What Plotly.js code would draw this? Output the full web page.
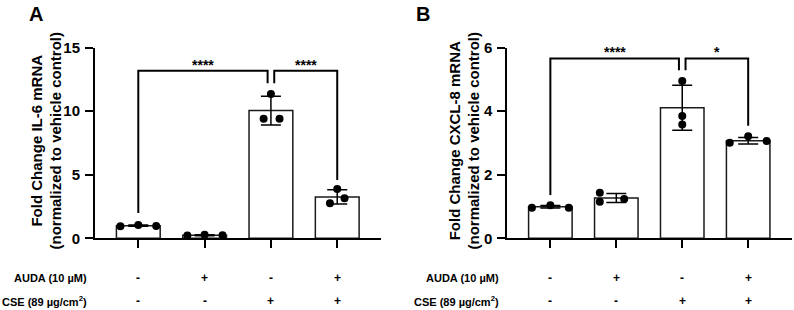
<!DOCTYPE html>
<html>
<head>
<meta charset="utf-8">
<script src="https://cdn.plot.ly/plotly-3.0.1.min.js"></script>
<style>html,body{margin:0;padding:0;background:#fff;}#chart{width:794px;height:310px;}</style>
</head>
<body>
<div id="chart"></div>
<script>
// ---- data ----
const categories = ['Vehicle', 'AUDA', 'CSE', 'AUDA + CSE'];
const audaSigns = ['-', '+', '-', '+'];
const cseSigns  = ['-', '-', '+', '+'];

// Panel A: IL-6
const il6Points = [[0.95, 1.05, 0.97], [0.22, 0.27, 0.24], [11.35, 9.4, 9.4], [3.88, 3.15, 2.75]];
const il6Jitter = [[-0.27, 0, 0.27], [-0.26, 0, 0.27], [0, -0.11, 0.13], [0, 0.11, -0.11]];
const il6Mean = [0.99, 0.24, 10.05, 3.26];
const il6Sd   = [0.05, 0.03, 1.13, 0.57];
const il6SigPairs  = [[0, 2], [2, 3]];
const il6SigLabels = ['****', '****'];
const il6SigTop    = [13.18, 13.18];
const il6SigLegs   = [[2.0, 12.2], [12.2, 4.58]];
const il6Ticks = [0, 5, 10, 15];

// Panel B: CXCL-8
const cxcl8Points = [[0.96, 1.04, 0.96], [1.43, 1.15, 1.24], [4.95, 3.85, 3.58], [3.01, 3.21, 3.06]];
const cxcl8Jitter = [[-0.28, 0, 0.28], [-0.25, -0.25, 0.12], [0, 0, 0], [-0.28, 0, 0.28]];
const cxcl8Mean = [0.99, 1.27, 4.11, 3.07];
const cxcl8Sd   = [0.04, 0.14, 0.71, 0.10];
const cxcl8SigPairs  = [[0, 2], [2, 3]];
const cxcl8SigLabels = ['****', '*'];
const cxcl8SigTop    = [5.66, 5.66];
const cxcl8SigLegs   = [[1.36, 5.29], [5.29, 3.54]];
const cxcl8Ticks = [0, 2, 4, 6];

// ---- styling ----
const FONT = 'Arial, "Liberation Sans", Helvetica, sans-serif';
const idx = categories.map((c, i) => i);
const bracketGap = 0.05;

function barTrace(mean, sd, xa, ya) {
  return {
    type: 'bar', x: idx, y: mean, xaxis: xa, yaxis: ya, width: 0.66,
    marker: {color: '#ffffff', line: {color: '#1a1a1a', width: 1.5}},
    error_y: {type: 'data', array: sd, visible: true, color: '#000', thickness: 1.5, width: 10},
    hovertext: categories, showlegend: false
  };
}
function pointTrace(points, jitter, xa, ya) {
  const xs = [], ys = [];
  points.forEach((arr, i) => arr.forEach((v, j) => { xs.push(i + jitter[i][j]); ys.push(v); }));
  return {
    type: 'scatter', mode: 'markers', x: xs, y: ys, xaxis: xa, yaxis: ya,
    marker: {color: '#000', size: 8}, showlegend: false, cliponaxis: false
  };
}
function brackets(pairs, tops, legs, labels, xa, ya) {
  const shapes = [], anns = [];
  pairs.forEach((p, k) => {
    let x0 = p[0], x1 = p[1];
    pairs.forEach((q, m) => {
      if (m === k) return;
      if (q[1] === x0) x0 += bracketGap;
      if (q[0] === x1) x1 -= bracketGap;
    });
    shapes.push({
      type: 'path', xref: xa, yref: ya,
      path: `M ${x0},${legs[k][0]} L ${x0},${tops[k]} L ${x1},${tops[k]} L ${x1},${legs[k][1]}`,
      line: {color: '#000', width: 2}
    });
    anns.push({
      xref: xa, yref: ya, x: (x0 + x1) / 2, y: tops[k], text: labels[k], showarrow: false,
      yanchor: 'bottom', yshift: -4, font: {size: 14, family: FONT, weight: 'bold', color: '#000'}
    });
  });
  return {shapes, anns};
}

const bA = brackets(il6SigPairs, il6SigTop, il6SigLegs, il6SigLabels, 'x', 'y');
const bB = brackets(cxcl8SigPairs, cxcl8SigTop, cxcl8SigLegs, cxcl8SigLabels, 'x2', 'y2');

const W = 794, H = 310;
const yDom = [(H - 238.3) / H, (H - 47.7) / H];
const xaxisBase = {
  range: [-0.653, 3.66], tickvals: idx, showticklabels: false, ticks: 'outside',
  ticklen: 8, tickwidth: 2, tickcolor: '#000', showline: true, linewidth: 2, linecolor: '#000',
  showgrid: false, zeroline: false, fixedrange: true
};
const yaxisBase = {
  domain: yDom, ticks: 'outside', ticklen: 8, tickwidth: 2, tickcolor: '#000',
  showline: true, linewidth: 2, linecolor: '#000', showgrid: false, zeroline: false,
  tickfont: {size: 15, family: FONT, weight: 'bold', color: '#000'}, ticklabelstandoff: 2
};

const labelFont = {size: 11, family: FONT, weight: 'bold', color: '#000'};
const signFont = {size: 12, family: FONT, weight: 'bold', color: '#000'};
const rowAnns = [];
function addRows(xa, labelX) {
  const rows = [[audaSigns, 'AUDA (10 µM)', (H - 278.3) / H], [cseSigns, 'CSE (89 µg/cm<sup>2</sup>)', (H - 300.5) / H]];
  rows.forEach(([signs, label, y]) => {
    rowAnns.push({xref: 'paper', yref: 'paper', x: labelX / W, y: y, xanchor: 'right', yanchor: 'middle',
      text: label, showarrow: false, font: labelFont});
    signs.forEach((s, i) => rowAnns.push({xref: xa, yref: 'paper', x: i, y: y, xanchor: 'center', yanchor: 'middle',
      text: s, showarrow: false, font: signFont}));
  });
}
addRows('x', 89);
addRows('x2', 501);

const titleFont = {size: 15, family: FONT, weight: 'bold', color: '#000'};
const otherAnns = [
  {xref: 'paper', yref: 'paper', x: 46 / W, y: (H - 140.5) / H, xanchor: 'center', yanchor: 'middle', textangle: -90,
   text: 'Fold Change IL-6 mRNA<br>(normalized to vehicle control)', showarrow: false, font: titleFont},
  {xref: 'paper', yref: 'paper', x: 464 / W, y: (H - 140.5) / H, xanchor: 'center', yanchor: 'middle', textangle: -90,
   text: 'Fold Change CXCL-8 mRNA<br>(normalized to vehicle control)', showarrow: false, font: titleFont},
  {xref: 'paper', yref: 'paper', x: 27 / W, y: (H - 14) / H, xanchor: 'left', yanchor: 'middle',
   text: 'A', showarrow: false, font: {size: 20, family: FONT, weight: 'bold', color: '#000'}},
  {xref: 'paper', yref: 'paper', x: 414 / W, y: (H - 14) / H, xanchor: 'left', yanchor: 'middle',
   text: 'B', showarrow: false, font: {size: 20, family: FONT, weight: 'bold', color: '#000'}}
];

const data = [
  barTrace(il6Mean, il6Sd, 'x', 'y'),
  pointTrace(il6Points, il6Jitter, 'x', 'y'),
  barTrace(cxcl8Mean, cxcl8Sd, 'x2', 'y2'),
  pointTrace(cxcl8Points, cxcl8Jitter, 'x2', 'y2')
];

const layout = {
  width: W, height: H, margin: {l: 0, r: 0, t: 0, b: 0},
  paper_bgcolor: '#fff', plot_bgcolor: '#fff',
  font: {family: FONT, color: '#000'},
  showlegend: false,
  xaxis: Object.assign({}, xaxisBase, {domain: [95 / W, 381 / W], anchor: 'y'}),
  yaxis: Object.assign({}, yaxisBase, {range: [0, 15], tickvals: il6Ticks, anchor: 'x'}),
  xaxis2: Object.assign({}, xaxisBase, {domain: [507.3 / W, 791.7 / W], anchor: 'y2'}),
  yaxis2: Object.assign({}, yaxisBase, {range: [0, 6], tickvals: cxcl8Ticks, anchor: 'x2'}),
  shapes: bA.shapes.concat(bB.shapes),
  annotations: bA.anns.concat(bB.anns, rowAnns, otherAnns)
};

Plotly.newPlot('chart', data, layout, {displayModeBar: false, staticPlot: true});
</script>
</body>
</html>
